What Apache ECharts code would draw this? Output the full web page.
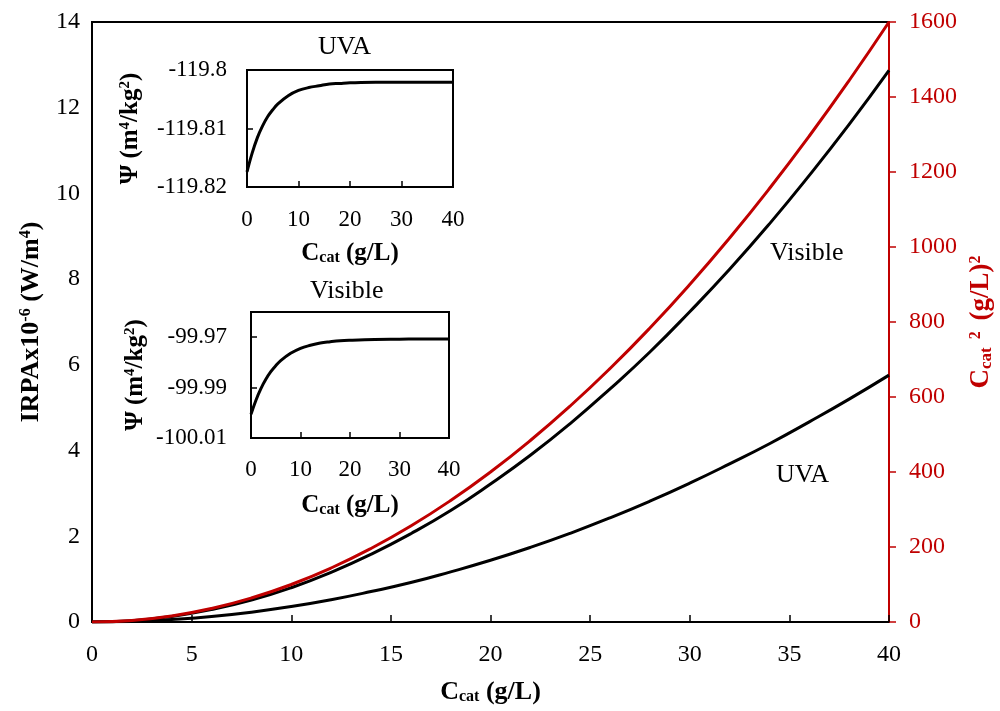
<!DOCTYPE html>
<html>
<head>
<meta charset="utf-8">
<script src="https://cdn.jsdelivr.net/npm/echarts@6/dist/echarts.min.js"></script>
<style>
  html, body { margin: 0; padding: 0; background: #fff; }
  #chart { width: 1000px; height: 711px; }
</style>
</head>
<body>
<div id="chart"></div>
<script>
// Catalyst loading C_cat (g/L) for the main curves
const cat = [0, 2, 4, 6, 8, 10, 12, 14, 16, 18, 20, 22, 24, 26, 28, 30, 32, 34, 36, 38, 40];
// IRPA x10^-6 (W/m^4)
const irpaVisible = [0, 0.03, 0.13, 0.29, 0.51, 0.80, 1.16, 1.58, 2.06, 2.60, 3.22, 3.89, 4.63, 5.44, 6.30, 7.24, 8.23, 9.29, 10.42, 11.61, 12.87];
const irpaUVA = [0, 0.01, 0.06, 0.13, 0.23, 0.36, 0.52, 0.71, 0.92, 1.17, 1.44, 1.74, 2.07, 2.43, 2.82, 3.24, 3.69, 4.16, 4.67, 5.20, 5.76];
// C_cat^2 (g/L)^2, right axis
const catSquared = [0, 4, 16, 36, 64, 100, 144, 196, 256, 324, 400, 484, 576, 676, 784, 900, 1024, 1156, 1296, 1444, 1600];

// Inset curves: Psi (m^4/kg^2) vs C_cat
const insetCat = [0, 1, 2, 3, 4, 5, 6, 8, 10, 12, 14, 16, 18, 20, 25, 30, 35, 40];
const psiUVA = [-119.8174, -119.8142, -119.8116, -119.8096, -119.8080, -119.8068, -119.8058, -119.8044, -119.8035, -119.8030, -119.8027, -119.8024, -119.8023, -119.8022, -119.8021, -119.8021, -119.8021, -119.8021];
const psiVisible = [-100.0006, -99.9950, -99.9904, -99.9867, -99.9837, -99.9813, -99.9793, -99.9764, -99.9744, -99.9732, -99.9723, -99.9718, -99.9714, -99.9712, -99.9709, -99.9708, -99.9707, -99.9707];

const RED = '#C00000';
const FONT = '"Liberation Serif", "Times New Roman", serif';

const pairs = (xs, ys) => xs.map((x, i) => [x, ys[i]]);

const richFor = (size, color) => ({
  b: { fontSize: size, fontWeight: 'bold', fontFamily: FONT, color: color },
  sub: { fontSize: Math.round(size * 0.62), fontWeight: 'bold', fontFamily: FONT, color: color, verticalAlign: 'bottom', padding: [9, 0, 0, 0] },
  sup: { fontSize: Math.round(size * 0.6), fontWeight: 'bold', fontFamily: FONT, color: color, verticalAlign: 'top', padding: [0, 0, 9, 0] },
  supsp: { fontSize: Math.round(size * 0.6), fontWeight: 'bold', fontFamily: FONT, color: color, verticalAlign: 'top', padding: [0, 4, 9, 8] }
});

const chart = echarts.init(document.getElementById('chart'), null, { renderer: 'canvas' });

const insetX = (gridIndex, gap, margin) => ({
  type: 'value', gridIndex: gridIndex, min: 0, max: 40, interval: 10,
  axisLine: { lineStyle: { color: '#000', width: 2 } },
  axisTick: { inside: true, length: 6, lineStyle: { color: '#000', width: 1.5 } },
  axisLabel: { color: '#000', fontSize: 23, fontFamily: FONT, margin: margin },
  splitLine: { show: false },
  name: '{b|C}{sub|cat}{b| (g/L)}', nameLocation: 'middle', nameGap: gap,
  nameTextStyle: { rich: richFor(25, '#000') }
});

const insetY = (gridIndex, min, max, interval, gap, margin, digits) => ({
  type: 'value', gridIndex: gridIndex, min: min, max: max, interval: interval,
  axisLine: { lineStyle: { color: '#000', width: 2 } },
  axisTick: { inside: true, length: 6, lineStyle: { color: '#000', width: 1.5 } },
  axisLabel: {
    color: '#000', fontSize: 23, fontFamily: FONT, margin: margin, showMaxLabel: gridIndex === 1,
    formatter: v => String(parseFloat(v.toFixed(digits)))
  },
  splitLine: { show: false },
  name: '{b|\u03A8 (m}{sup|4}{b|/kg}{sup|2}{b|)}', nameLocation: 'middle', nameGap: gap, nameRotate: 90,
  nameTextStyle: { rich: richFor(25, '#000') }
});

const option = {
  backgroundColor: '#fff',
  animation: false,
  textStyle: { fontFamily: FONT },
  grid: [
    { left: 92, right: 111, top: 22, bottom: 89, show: true, borderColor: '#000', borderWidth: 2, outerBoundsMode: 'none' },
    { left: 247, top: 70, width: 206, height: 117, show: true, borderColor: '#000', borderWidth: 2, outerBoundsMode: 'none' },
    { left: 251, top: 312, width: 198, height: 126, show: true, borderColor: '#000', borderWidth: 2, outerBoundsMode: 'none' }
  ],
  xAxis: [
    {
      type: 'value', gridIndex: 0, min: 0, max: 40, interval: 5,
      axisLine: { lineStyle: { color: '#000', width: 2 } },
      axisTick: { inside: true, length: 7, lineStyle: { color: '#000', width: 1.5 } },
      axisLabel: { color: '#000', fontSize: 24, fontFamily: FONT, margin: 21 },
      splitLine: { show: false },
      name: '{b|C}{sub|cat}{b| (g/L)}', nameLocation: 'middle', nameGap: 57,
      nameTextStyle: { rich: richFor(26, '#000') }
    },
    insetX(1, 54, 21),
    insetX(2, 55, 20)
  ],
  yAxis: [
    {
      type: 'value', gridIndex: 0, min: 0, max: 14, interval: 2,
      axisLine: { lineStyle: { color: '#000', width: 2 } },
      axisTick: { show: false },
      axisLabel: { color: '#000', fontSize: 24, fontFamily: FONT, margin: 12 },
      splitLine: { show: false },
      name: '{b|IRPAx10}{sup|-6}{b| (W/m}{sup|4}{b|)}', nameLocation: 'middle', nameGap: 48, nameRotate: 90,
      nameTextStyle: { rich: richFor(26, '#000') }
    },
    {
      type: 'value', gridIndex: 0, position: 'right', min: 0, max: 1600, interval: 200,
      axisLine: { show: true, lineStyle: { color: RED, width: 2 } },
      axisTick: { show: true, inside: false, length: 7, lineStyle: { color: RED, width: 1.5 } },
      axisLabel: { color: RED, fontSize: 24, fontFamily: FONT, margin: 20, formatter: v => String(v) },
      splitLine: { show: false },
      name: '{b|C}{sub|cat}{supsp|2}{b| (g/L)}{sup|2}', nameLocation: 'middle', nameGap: 74, nameRotate: 90,
      nameTextStyle: { rich: richFor(27, RED) }
    },
    insetY(1, -119.82, -119.80, 0.01, 104, 20, 3),
    insetY(2, -100.01, -99.96, 0.02, 103, 24, 2)
  ],
  series: [
    { type: 'line', xAxisIndex: 0, yAxisIndex: 0, data: pairs(cat, irpaVisible), smooth: true, symbol: 'none', lineStyle: { color: '#000', width: 3 } },
    { type: 'line', xAxisIndex: 0, yAxisIndex: 0, data: pairs(cat, irpaUVA), smooth: true, symbol: 'none', lineStyle: { color: '#000', width: 3 } },
    { type: 'line', xAxisIndex: 0, yAxisIndex: 1, data: pairs(cat, catSquared), smooth: true, symbol: 'none', lineStyle: { color: RED, width: 3 } },
    { type: 'line', xAxisIndex: 1, yAxisIndex: 2, data: pairs(insetCat, psiUVA), smooth: 0.4, symbol: 'none', lineStyle: { color: '#000', width: 3 } },
    { type: 'line', xAxisIndex: 2, yAxisIndex: 3, data: pairs(insetCat, psiVisible), smooth: 0.4, symbol: 'none', lineStyle: { color: '#000', width: 3 } }
  ],
  graphic: [
    { type: 'text', left: 770, top: 240, style: { text: 'Visible', font: '26px ' + FONT, fill: '#000' } },
    { type: 'text', left: 776, top: 462, style: { text: 'UVA', font: '26px ' + FONT, fill: '#000' } },
    { type: 'text', left: 318, top: 34, style: { text: 'UVA', font: '26px ' + FONT, fill: '#000' } },
    { type: 'text', left: 310, top: 278, style: { text: 'Visible', font: '26px ' + FONT, fill: '#000' } }
  ]
};

chart.setOption(option);
</script>
</body>
</html>
